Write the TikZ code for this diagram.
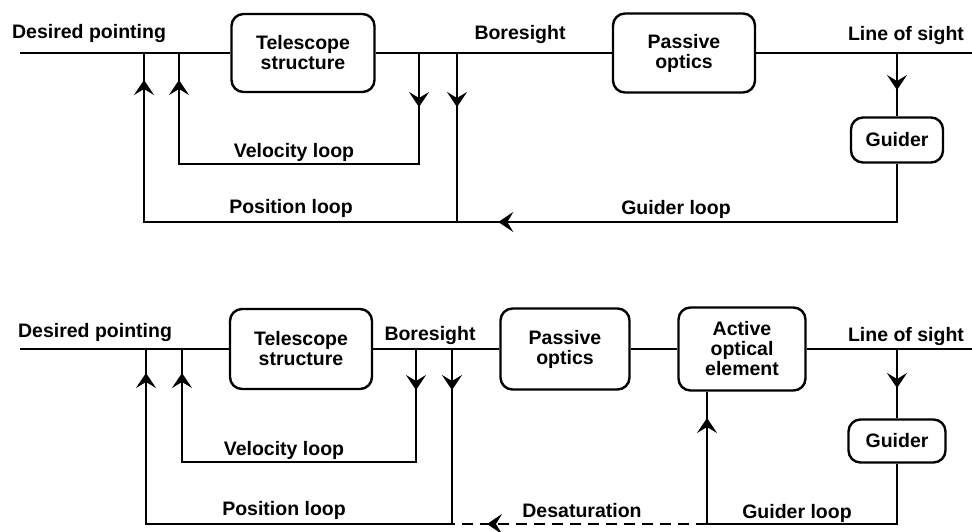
\documentclass[tikz,border=0pt]{standalone}
\usepackage{fontspec}
\setmainfont{Liberation Sans}
\usetikzlibrary{arrows.meta,decorations.markings}

\begin{document}
\begin{tikzpicture}[
        x=1pt, y=-1pt,
        font=\fontsize{19.5}{20}\selectfont\bfseries,
        block/.style={draw, line width=2.4pt, rounded corners=12pt, align=center, inner sep=0pt},
        line/.style={line width=1.8pt},
        desat/.style={line, dash pattern=on 11pt off 7pt},
        tipat/.style={postaction={decorate, decoration={markings,
            mark=at position #1pt with {\arrow{Stealth[length=15pt, width=20pt, inset=6pt]}}}}},
        lbl/.style={anchor=base, inner sep=0pt}
    ]
    \useasboundingbox (0,0) rectangle (972,531);

    % ===================== TOP: GUIDER LOOP ONLY =====================
    % BLOCKS
    \node[block, minimum width=143pt, minimum height=78pt] (tel1) at (303,53) {Telescope\\ structure};
    \node[block, minimum width=142pt, minimum height=79pt] (pas1) at (684,53) {Passive\\ optics};
    \node[block, minimum width=92pt, minimum height=45pt] (gui1) at (897,140) {Guider};

    % JUNCTIONS
    \coordinate (in1) at (20,53);
    \coordinate (pj1) at (144,53);
    \coordinate (vj1) at (179,53);
    \coordinate (vt1) at (419,53);
    \coordinate (pt1) at (457,53);
    \coordinate (gj1) at (897,53);
    \coordinate (out1) at (972,53);
    \coordinate (vb1) at (0,164);
    \coordinate (pb1) at (0,222);

    % LABELS
    \node[lbl] (dp1) at (89,38) {Desired pointing};
    \node[lbl] (bs1) at (520,39) {Boresight};
    \node[lbl] (los1) at (906,40) {Line of sight};
    \node[lbl] (vl1) at (294,157) {Velocity loop};
    \node[lbl] (pl1) at (291,213) {Position loop};
    \node[lbl] (gl1) at (676,214) {Guider loop};

    % MAIN PATH
    \draw[line] (in1) -- (tel1) -- (pas1) -- (out1);

    % Feedback loops
    \draw[line, tipat=54, tipat=435] (vt1) -- (vt1 |- vb1) -- (vj1 |- vb1) -- (vj1);
    \draw[line, tipat=54, tipat=624] (pt1) -- (pt1 |- pb1) -- (pj1 |- pb1) -- (pj1);
    \draw[line, tipat=37] (gj1) -- (gui1.north);
    \draw[line, tipat=457] (gui1.south) -- (gui1.south |- pb1) -- (pt1 |- pb1);

    % ================ BOTTOM: WITH ACTIVE OPTICAL ELEMENT ================
    % BLOCKS
    \node[block, minimum width=142pt, minimum height=80pt] (tel2) at (301,349) {Telescope\\ structure};
    \node[block, minimum width=129pt, minimum height=81pt] (pas2) at (565,349) {Passive\\ optics};
    \node[block, minimum width=127pt, minimum height=83pt] (act2) at (742,349) {Active\\ optical\\ element};
    \node[block, minimum width=97pt, minimum height=43pt] (gui2) at (897,441) {Guider};

    % JUNCTIONS
    \coordinate (in2) at (20,349);
    \coordinate (pj2) at (146,349);
    \coordinate (vj2) at (182,349);
    \coordinate (vt2) at (416,349);
    \coordinate (pt2) at (452,349);
    \coordinate (gj2) at (897,349);
    \coordinate (out2) at (972,349);
    \coordinate (aj2) at (707,524);
    \coordinate (vb2) at (0,462);
    \coordinate (pb2) at (0,524);

    % LABELS
    \node[lbl] (dp2) at (95,337) {Desired pointing};
    \node[lbl] (bs2) at (430,340) {Boresight};
    \node[lbl] (los2) at (906,341) {Line of sight};
    \node[lbl] (vl2) at (284,455) {Velocity loop};
    \node[lbl] (pl2) at (284,515) {Position loop};
    \node[lbl] (ds2) at (582,517) {Desaturation};
    \node[lbl] (gl2) at (797,518) {Guider loop};

    % MAIN PATH
    \draw[line] (in2) -- (tel2) -- (pas2) -- (act2) -- (out2);

    % Feedback loops
    \draw[line, tipat=41, tipat=436] (vt2) -- (vt2 |- vb2) -- (vj2 |- vb2) -- (vj2);
    \draw[line, tipat=41, tipat=632] (pt2) -- (pt2 |- pb2) -- (pj2 |- pb2) -- (pj2);
    \draw[line, tipat=39] (gj2) -- (gui2.north);
    \draw[line] (gui2.south) -- (gui2.south |- pb2) -- (aj2);
    \draw[line, tipat=106] (aj2) -- (aj2 |- act2.south);

    % Desaturation path
    \draw[desat, tipat=220] (aj2) -- (pt2 |- pb2);

\end{tikzpicture}
\end{document}
